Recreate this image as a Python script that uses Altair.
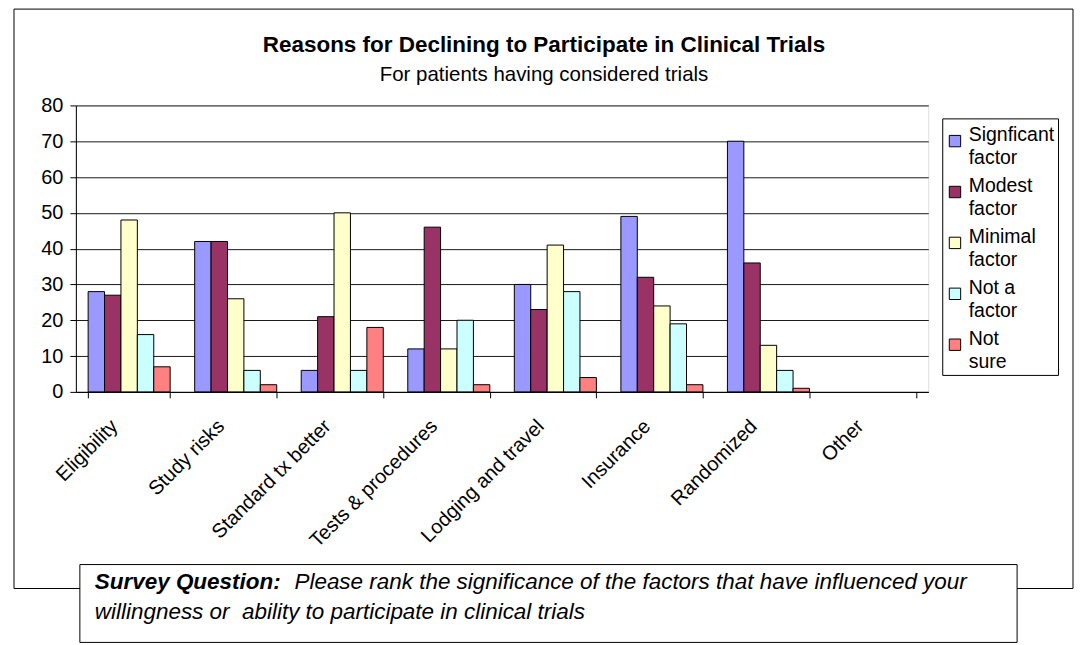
import altair as alt
import pandas as pd

categories = ["Eligibility", "Study risks", "Standard tx better", "Tests & procedures",
              "Lodging and travel", "Insurance", "Randomized", "Other"]
series = ["Signficant factor", "Modest factor", "Minimal factor", "Not a factor", "Not sure"]
significant = [28, 42, 6, 12, 30, 49, 70, None]
modest = [27, 42, 21, 46, 23, 32, 36, None]
minimal = [48, 26, 50, 12, 41, 24, 13, None]
not_factor = [16, 6, 6, 20, 28, 19, 6, None]
not_sure = [7, 2, 18, 2, 4, 2, 1, None]
colors = ["#9999FF", "#993366", "#FFFFCC", "#CCFFFF", "#FF8080"]
y_ticks = [0, 10, 20, 30, 40, 50, 60, 70, 80]

title_text = "Reasons for Declining to Participate in Clinical Trials"
subtitle_text = "For patients having considered trials"
q_bold = "Survey Question:"
q_line1 = "Please rank the significance of the factors that have influenced your"
q_line2 = "willingness or\u00a0 ability to participate in clinical trials"

rows = []
for s, vals in zip(series, [significant, modest, minimal, not_factor, not_sure]):
    for c, v in zip(categories, vals):
        if v is not None:
            rows.append({"category": c, "series": s, "value": v})
df = pd.DataFrame(rows)

FONT = "Liberation Sans"
W, H = 854, 287

one = pd.DataFrame({"k": [0]})

border = alt.Chart(one).mark_rect(fillOpacity=0, stroke="black", strokeWidth=1).encode(
    x=alt.value(-62), x2=alt.value(999), y=alt.value(-96.5), y2=alt.value(484)
)

bars = alt.Chart(df).mark_bar(stroke="black", strokeWidth=1).encode(
    x=alt.X("category:N", sort=categories,
            scale=alt.Scale(domain=categories, paddingInner=0.23, paddingOuter=0.115),
            axis=alt.Axis(title=None, labelAngle=-45, labelAlign="right", labelBaseline="middle",
                          tickBand="extent", tickSize=6, labelPadding=25, labelOffset=-15,
                          labelFontSize=20, labelFont=FONT, labelColor="black",
                          domainColor="black", tickColor="black", grid=False)),
    xOffset=alt.XOffset("series:N", sort=series,
                        scale=alt.Scale(domain=series, paddingInner=0, paddingOuter=0)),
    y=alt.Y("value:Q", scale=alt.Scale(domain=[0, 80], nice=False),
            axis=alt.Axis(title=None, values=y_ticks, tickSize=6, labelPadding=7,
                          labelFontSize=20, labelFont=FONT, labelColor="black",
                          domainColor="black", tickColor="black",
                          grid=True, gridColor="#1a1a1a", gridWidth=1)),
    color=alt.Color("series:N", sort=series,
                    scale=alt.Scale(domain=series, range=colors),
                    legend=alt.Legend(orient="none", legendX=868, legendY=13,
                                      title=" ", titleFontSize=1, titlePadding=9,
                                      symbolType="square", symbolSize=130,
                                      symbolStrokeColor="black", symbolStrokeWidth=1,
                                      labelFontSize=19.5, labelFont=FONT, labelColor="black",
                                      labelExpr="datum.label == 'Not a factor' ? ['Not a', 'factor'] : split(datum.label, ' ')",
                                      labelLimit=200, labelBaseline="alphabetic", labelOffset=4,
                                      rowPadding=7, padding=3,
                                      strokeColor="black", fillColor="white")),
)

title = alt.Chart(pd.DataFrame({"t": [title_text]})).mark_text(
    font=FONT, fontSize=22.5, fontWeight="bold", color="black", align="center", baseline="middle"
).encode(x=alt.value(469), y=alt.value(-61), text="t:N")

subtitle = alt.Chart(pd.DataFrame({"t": [subtitle_text]})).mark_text(
    font=FONT, fontSize=20.5, color="black", align="center", baseline="middle"
).encode(x=alt.value(469), y=alt.value(-30), text="t:N")

qbox = alt.Chart(one).mark_rect(fill="white", stroke="black", strokeWidth=1).encode(
    x=alt.value(4), x2=alt.value(943), y=alt.value(460), y2=alt.value(538)
)

qb = alt.Chart(pd.DataFrame({"t": [q_bold]})).mark_text(
    font=FONT, fontSize=22.5, fontWeight="bold", fontStyle="italic", color="black",
    align="left", baseline="middle"
).encode(x=alt.value(19), y=alt.value(477), text="t:N")

q1 = alt.Chart(pd.DataFrame({"t": [q_line1]})).mark_text(
    font=FONT, fontSize=22.5, fontStyle="italic", color="black", align="left", baseline="middle"
).encode(x=alt.value(219), y=alt.value(477), text="t:N")

q2 = alt.Chart(pd.DataFrame({"t": [q_line2]})).mark_text(
    font=FONT, fontSize=22.5, fontStyle="italic", color="black", align="left", baseline="middle"
).encode(x=alt.value(19), y=alt.value(508), text="t:N")

chart = alt.layer(border, bars, title, subtitle, qbox, qb, q1, q2).properties(
    width=W, height=H,
    autosize=alt.AutoSizeParams(type="none"),
    padding={"left": 68, "top": 97, "right": 146, "bottom": 252},
    background="white",
).configure_view(
    fill="#C0C0C0", stroke="#808080", strokeWidth=1
).configure(
    style={"guide-label": {"lineHeight": 23}}
)

chart.save("out.html", embed_options={"renderer": "svg", "actions": False})
